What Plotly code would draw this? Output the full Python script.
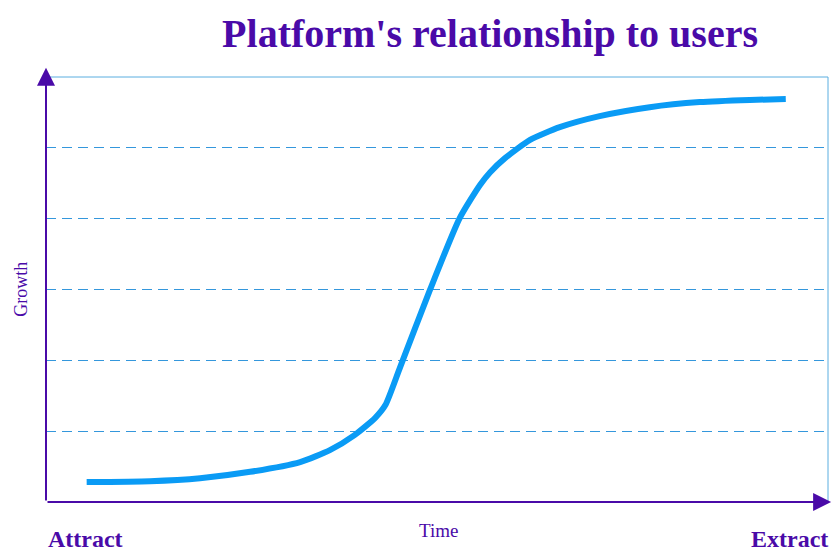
import plotly.graph_objects as go

# Curve (time on x, growth on y, both 0-100)
time_pts = [5.2, 13.3, 19.7, 26.1, 32.5, 36.3, 39.5, 42.1, 43.4, 45.3, 49.1, 52.9,
            55.5, 56.8, 58.7, 61.9, 65.7, 70.8, 77.2, 83.6, 90.0, 94.6]
growth_pts = [4.7, 4.9, 5.6, 7.1, 9.4, 12.2, 15.8, 19.8, 22.8, 31.8, 49.9, 66.8,
              74.6, 77.6, 80.9, 85.2, 88.2, 90.8, 92.9, 94.1, 94.6, 94.8]
grid_vals = [100 / 6, 200 / 6, 300 / 6, 400 / 6, 500 / 6]

purple = "#4a0aa8"
serif = "Liberation Serif, Times New Roman, serif"

fig = go.Figure()
fig.add_trace(go.Scatter(
    x=time_pts, y=growth_pts, mode="lines",
    line=dict(color="#0a9bf5", width=6, shape="spline", smoothing=0.6),
    hoverinfo="skip", showlegend=False
))

fig.update_layout(
    width=832, height=554,
    margin=dict(l=46, r=4, t=77, b=52),
    paper_bgcolor="white", plot_bgcolor="white",
    title=dict(text="<b>Platform's relationship to users</b>", x=0.589, xanchor="center",
               y=0.94, yanchor="middle",
               font=dict(family=serif, size=40, color=purple)),
    xaxis=dict(range=[0, 100], showgrid=False, showticklabels=False, zeroline=False,
               showline=False, fixedrange=True),
    yaxis=dict(range=[0, 100], tickvals=grid_vals, showticklabels=False, zeroline=False,
               showgrid=True, gridcolor="#3497dc", gridwidth=1, griddash="10px,6px",
               showline=False, fixedrange=True),
)

# light blue frame (top and right)
fig.add_shape(type="line", xref="paper", yref="paper", x0=0, y0=1, x1=1, y1=1,
              line=dict(color="#5aaee0", width=1))
fig.add_shape(type="line", xref="paper", yref="paper", x0=1, y0=0, x1=1, y1=1,
              line=dict(color="#5aaee0", width=1))

# purple axes with arrowheads
fig.add_annotation(xref="x domain", yref="y domain", x=0, y=1.022,
                   axref="x domain", ayref="y domain", ax=0, ay=0,
                   showarrow=True, arrowhead=2, arrowsize=1.8, arrowwidth=2,
                   arrowcolor=purple, text="")
fig.add_annotation(xref="x domain", yref="y domain", x=1.004, y=0,
                   axref="x domain", ayref="y domain", ax=0, ay=0,
                   showarrow=True, arrowhead=2, arrowsize=1.8, arrowwidth=2,
                   arrowcolor=purple, text="")

# labels
fig.add_annotation(xref="paper", yref="paper", x=0, y=-0.088, xanchor="left", yanchor="middle",
                   text="<b>Attract</b>", showarrow=False,
                   font=dict(family=serif, size=24, color=purple))
fig.add_annotation(xref="paper", yref="paper", x=1.003, y=-0.088, xanchor="right", yanchor="middle",
                   text="<b>Extract</b>", showarrow=False,
                   font=dict(family=serif, size=24, color=purple))
fig.add_annotation(xref="paper", yref="paper", x=0.502, y=-0.066, xanchor="center", yanchor="middle",
                   text="Time", showarrow=False,
                   font=dict(family=serif, size=19, color=purple))
fig.add_annotation(xref="paper", yref="paper", x=-0.033, y=0.5, xanchor="center", yanchor="middle",
                   text="Growth", textangle=-90, showarrow=False,
                   font=dict(family=serif, size=18, color=purple))

# drop the default page margin so the figure fills the window
fig.write_html("out.html", config={"displayModeBar": False},
               post_script="document.body.style.margin='0';document.body.style.overflow='hidden';")
